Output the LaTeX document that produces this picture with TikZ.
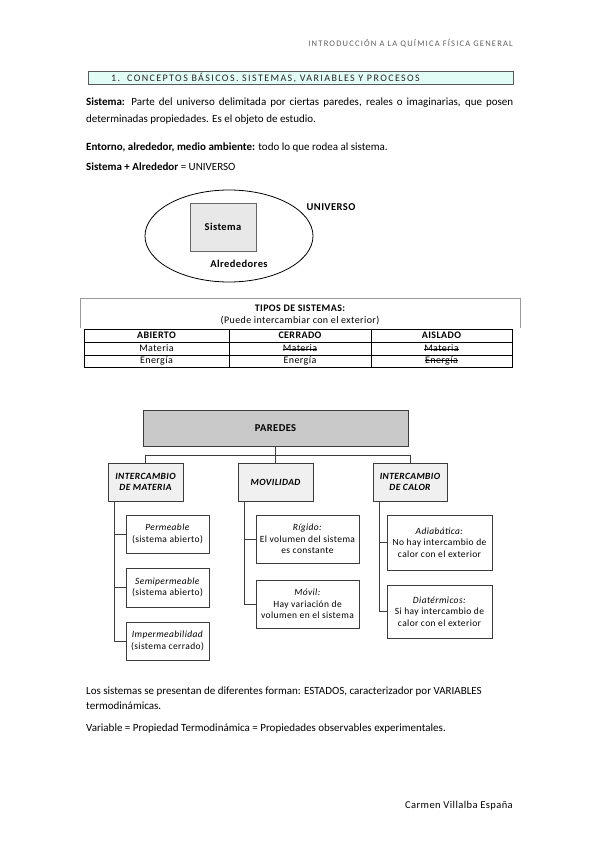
\documentclass[tikz,border=0pt]{standalone}
\usepackage{fontspec}
\setmainfont{Carlito}
\newfontfamily\spaced[LetterSpace=14]{Carlito}
\newfontfamily\arbol[LetterSpace=4]{Carlito}
\usetikzlibrary{shapes}

\definecolor{cabecera}{HTML}{E2FDF6}
\definecolor{borde}{HTML}{3C3C3C}

\begin{document}
\begin{tikzpicture}[x=1pt,y=-1pt]
	\tikzstyle{blank} = [inner sep=0, minimum size=0]
	\tikzstyle{txt} = [inner sep=0, anchor=base west, font=\fontsize{11}{13}\selectfont]
	\tikzstyle{celda} = [inner sep=0, font=\arbol\fontsize{10}{12}\selectfont]
	\tikzstyle{raiz} = [draw=borde, line width=0.9pt, fill=gray!42, minimum width=265, minimum height=36, font=\arbol\fontsize{10.5}{12}\selectfont\bfseries]
	\tikzstyle{rama} = [draw=borde, line width=0.9pt, fill=gray!12, minimum width=75, minimum height=38, align=center, font=\arbol\fontsize{9.5}{11.5}\selectfont\bfseries\itshape]
	\tikzstyle{hoja} = [draw=borde, line width=0.8pt, fill=white, align=center, inner sep=1pt, font=\arbol\fontsize{9.5}{11.5}\selectfont]
	\tikzstyle{enlace} = [line width=0.9pt, draw=borde]

	\useasboundingbox[fill=white] (0,0) rectangle (599,848);

	% cabecera
	\node[blank, anchor=base east, text=gray!75!black, font=\spaced\fontsize{8.5}{10}\selectfont] (titulo) at (513,47) {INTRODUCCIÓN A LA QUÍMICA FÍSICA GENERAL};
	\node[draw=gray!70!black, fill=cabecera, minimum width=425, minimum height=13, inner sep=0] (seccion) at (300.5,77.5) {};
	\node[blank, anchor=base west, text=gray!30!black, font=\spaced\fontsize{10}{12}\selectfont] (secciontxt) at (111,81.5) {1.\hspace{7pt}CONCEPTOS BÁSICOS. SISTEMAS, VARIABLES Y PROCESOS};

	% definiciones
	\node[txt] (def1) at (86,106) {\makebox[427pt][s]{\textbf{Sistema:} Parte del universo delimitada por ciertas paredes, reales o imaginarias, que posen}};
	\node[txt] (def2) at (86,122) {determinadas propiedades. Es el objeto de estudio.};
	\node[txt] (def3) at (86,150) {\textbf{Entorno, alrededor, medio ambiente:} todo lo que rodea al sistema.};
	\node[txt] (def4) at (86,170) {\textbf{Sistema + Alrededor} = UNIVERSO};

	% universo
	\node[draw, ellipse, line width=0.8pt, minimum width=168, minimum height=92] (universo) at (229,236) {};
	\node[draw=gray!80!black, fill=gray!18, minimum width=66, minimum height=48, font=\arbol\fontsize{10.5}{12}\selectfont\bfseries] (sistema) at (223,227) {Sistema};
	\node[blank, font=\arbol\fontsize{10.5}{12}\selectfont\bfseries] (alrededores) at (239,264) {Alrededores};
	\node[blank, font=\arbol\fontsize{10.5}{12}\selectfont\bfseries] (universotxt) at (331,207) {UNIVERSO};

	% tabla
	\draw[gray!80] (80,328) -- (80,298) -- (520,298) -- (520,328);
	\node[celda, font=\arbol\fontsize{10}{12}\selectfont\bfseries] (tipos) at (300,308) {TIPOS DE SISTEMAS:};
	\node[celda] (tiposb) at (300,321) {(Puede intercambiar con el exterior)};
	\draw[line width=0.6pt] (84,329) rectangle (512,367);
	\foreach \y in {342,355} {
		\draw[line width=0.6pt] (84,\y) -- (512,\y);
	}
	\foreach \x in {229,371} {
		\draw[line width=0.6pt] (\x,329) -- (\x,367);
	}
	\node[celda, font=\arbol\fontsize{10}{12}\selectfont\bfseries] (abierto) at (156.5,335.5) {ABIERTO};
	\node[celda, font=\arbol\fontsize{10}{12}\selectfont\bfseries] (cerrado) at (300,335.5) {CERRADO};
	\node[celda, font=\arbol\fontsize{10}{12}\selectfont\bfseries] (aislado) at (441.5,335.5) {AISLADO};
	\node[celda] (m1) at (156.5,348.5) {Materia};
	\node[celda] (m2) at (300,348.5) {Materia};
	\node[celda] (m3) at (441.5,348.5) {Materia};
	\node[celda] (e1) at (156.5,361) {Energía};
	\node[celda] (e2) at (300,361) {Energía};
	\node[celda] (e3) at (441.5,361) {Energía};
	% tachados
	\foreach \n in {m2,m3,e3} {
		\draw[line width=0.6pt] ([yshift=2.8pt]\n.base west) -- ([yshift=2.8pt]\n.base east);
	}

	% paredes
	\node[raiz] (paredes) at (275.5,428) {PAREDES};
	\node[rama] (materia) at (145.5,482) {INTERCAMBIO\\DE MATERIA};
	\node[rama] (movilidad) at (275.5,482) {MOVILIDAD};
	\node[rama, minimum width=74] (calor) at (410,482) {INTERCAMBIO\\DE CALOR};

	\draw[enlace] (paredes.south) -- (movilidad.north);
	\draw[enlace] (paredes.south) -- ++(0,9) -| (materia.north);
	\draw[enlace] (paredes.south) -- ++(0,9) -| (calor.north);

	\node[hoja, minimum width=83, minimum height=38] (perm) at (167.5,534) {\textit{Permeable}\\(sistema abierto)};
	\node[hoja, minimum width=83, minimum height=39] (semi) at (167.5,587.5) {\textit{Semipermeable}\\(sistema abierto)};
	\node[hoja, minimum width=83, minimum height=38] (imp) at (167.5,641) {\textit{Impermeabilidad}\\(sistema cerrado)};

	\node[hoja, minimum width=103, minimum height=48] (rigido) at (307.5,539) {\textit{Rígido:}\\El volumen del sistema\\es constante};
	\node[hoja, minimum width=103, minimum height=48] (movil) at (307.5,604) {\textit{Móvil:}\\Hay variación de\\volumen en el sistema};

	\node[hoja, minimum width=105, minimum height=55] (adiab) at (439.5,542.5) {\textit{Adiabática:}\\No hay intercambio de\\calor con el exterior};
	\node[hoja, minimum width=105, minimum height=53] (diat) at (439.5,611.5) {\textit{Diatérmicos:}\\Si hay intercambio de\\calor con el exterior};

	\foreach \padre/\hijo in {materia/perm, materia/semi, materia/imp, movilidad/rigido, movilidad/movil, calor/adiab, calor/diat} {
		\draw[enlace] ([xshift=7pt]\padre.south west) |- (\hijo.west);
	}

	% estados y variables
	\node[txt] (est1) at (86,694) {Los sistemas se presentan de diferentes forman: ESTADOS, caracterizador por VARIABLES};
	\node[txt] (est2) at (86,709) {termodinámicas.};
	\node[txt] (var) at (86,731) {Variable = Propiedad Termodinámica = Propiedades observables experimentales.};

	% pie
	\node[blank, anchor=base east, font=\arbol\fontsize{10.5}{12}\selectfont] (autora) at (513,808) {Carmen Villalba España};

\end{tikzpicture}
\end{document}
